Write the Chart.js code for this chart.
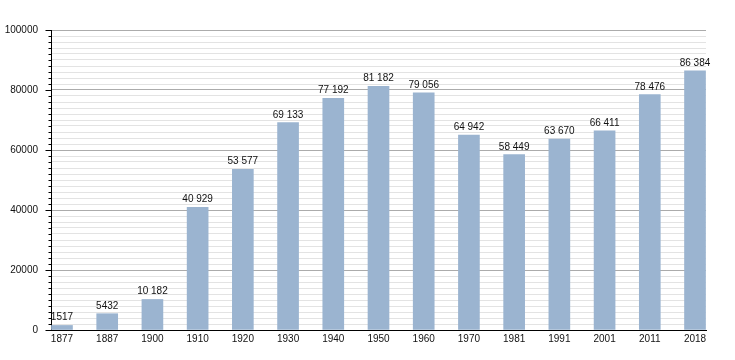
<!DOCTYPE html>
<html>
<head>
<meta charset="utf-8">
<script src="https://cdn.jsdelivr.net/npm/chart.js@4"></script>
<style>
    html, body { margin: 0; padding: 0; background: #fff; }
    #wrap { width: 735px; height: 360px; }
</style>
</head>
<body>
<div id="wrap"><canvas id="grafico" width="735" height="360"></canvas></div>
<script>
// Dados
const anos = ['1877', '1887', '1900', '1910', '1920', '1930', '1940', '1950', '1960', '1970', '1981', '1991', '2001', '2011', '2018'];
const populacao = [1517, 5432, 10182, 40929, 53577, 69133, 77192, 81182, 79056, 64942, 58449, 63670, 66411, 78476, 86384];
const yMax = 100000;
const passoMaior = 20000;
const passoMenor = 2000;

function formatar(v) {
    if (v < 10000) return String(v);
    return String(v).replace(/\B(?=(\d{3})+(?!\d))/g, ' ');
}

// rótulos em cima das barras + marcas do eixo y
const rotulos = {
    id: 'rotulos',
    afterDatasetsDraw(chart) {
        const ctx = chart.ctx;
        const meta = chart.getDatasetMeta(0);
        ctx.save();
        ctx.font = '10px "Liberation Sans", Arial, sans-serif';
        ctx.fillStyle = '#111';
        ctx.textAlign = 'center';
        ctx.textBaseline = 'alphabetic';
        meta.data.forEach((bar, i) => {
            ctx.fillText(formatar(populacao[i]), bar.x, bar.y - 5);
        });
        ctx.restore();
    },
    afterDraw(chart) {
        const ctx = chart.ctx;
        const y = chart.scales.y;
        const x0 = Math.round(chart.chartArea.left) + 0.5;
        ctx.save();
        ctx.strokeStyle = '#000';
        ctx.lineWidth = 1;
        y.ticks.forEach(t => {
            const py = Math.round(y.getPixelForValue(t.value)) + 0.5;
            const len = t.value % passoMaior === 0 ? 6 : 3;
            ctx.beginPath();
            ctx.moveTo(x0 - len, py);
            ctx.lineTo(x0, py);
            ctx.stroke();
        });
        ctx.restore();
    }
};

const ctx = document.getElementById('grafico').getContext('2d');
new Chart(ctx, {
    type: 'bar',
    data: {
        datasets: [{
            data: populacao.map((v, i) => ({ x: i, y: v })),
            backgroundColor: '#9bb4d0',
            borderWidth: 0,
            barThickness: 21
        }]
    },
    options: {
        responsive: false,
        animation: false,
        devicePixelRatio: 1,
        layout: { padding: { left: 4, top: 30, right: 29, bottom: 12 } },
        plugins: {
            legend: { display: false },
            tooltip: { enabled: false }
        },
        scales: {
            x: {
                type: 'linear',
                offset: false,
                min: -0.243,
                max: 14.243,
                grid: { display: false, drawTicks: false, offset: false },
                border: { display: true, color: '#000', width: 1 },
                ticks: {
                    stepSize: 1,
                    includeBounds: false,
                    autoSkip: false,
                    maxRotation: 0,
                    padding: 3,
                    color: '#111',
                    font: { family: '"Liberation Sans", Arial, sans-serif', size: 10 },
                    callback: function(value) {
                        return Number.isInteger(value) ? anos[value] : '';
                    }
                }
            },
            y: {
                min: 0,
                max: yMax,
                afterFit: function(scale) { scale.width = 47; },
                grid: {
                    drawTicks: false,
                    color: function(c) {
                        return c.tick && c.tick.value % passoMaior === 0 ? '#ababab' : '#e3e3e3';
                    }
                },
                border: { display: true, color: '#000', width: 1 },
                ticks: {
                    stepSize: passoMenor,
                    autoSkip: false,
                    padding: 13,
                    color: '#111',
                    font: { family: '"Liberation Sans", Arial, sans-serif', size: 10 },
                    callback: function(value) {
                        return value % passoMaior === 0 ? String(value) : '';
                    }
                }
            }
        }
    },
    plugins: [rotulos]
});
</script>
</body>
</html>
